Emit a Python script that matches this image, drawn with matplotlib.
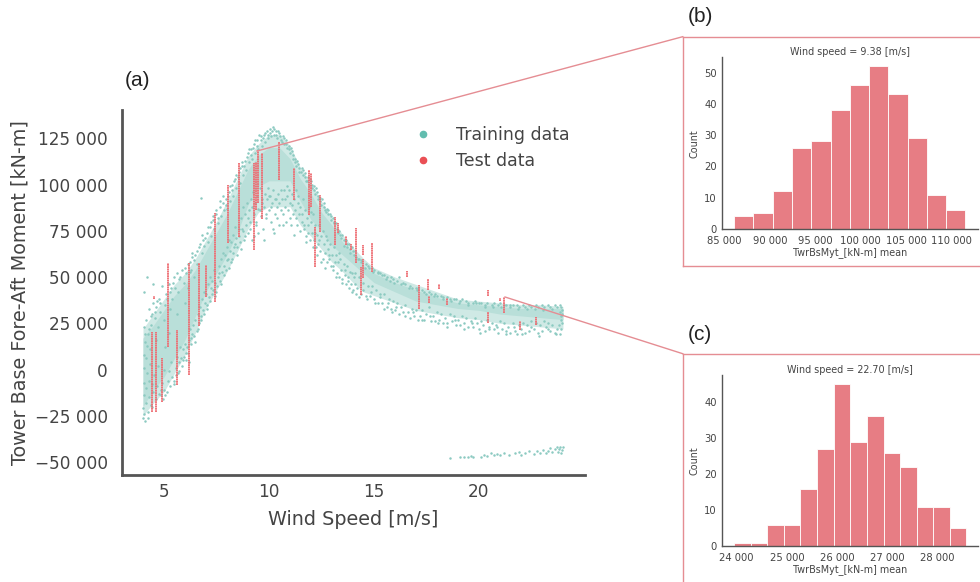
import matplotlib
matplotlib.use('Agg')
import matplotlib.pyplot as plt
from matplotlib.lines import Line2D

# wind speed [m/s], moment [thousand kN-m]
train_points = [
    (4.0,-26),(4.02,-21),(4.05,-14),(4.03,-7),(4.06,1),(4.04,8),(4.08,15),(4.05,23),(4.05,42),(4.17,50),
    (4.1,-28),(4.14,-18),(4.12,-10),(4.18,-2),(4.15,6),(4.2,13),(4.22,19),(4.12,27),(4.48,46),(4.3,33),
    (4.25,-23),(4.3,-15),(4.28,-6),(4.34,3),(4.32,11),(4.38,24),(4.42,30),(4.5,36),(4.55,28),(4.6,34),
    (4.45,-20),(4.5,-12),(4.52,-3),(4.6,-16),(4.65,-9),(4.7,2),(4.62,16),(4.72,23),(4.8,31),(4.78,38),
    (4.85,-14),(4.9,-7),(4.95,-16),(5.0,-11),(4.98,0),(5.05,12),(5.0,27),(5.05,35),(5.1,41),(4.9,45),
    (5.15,-12),(5.2,-6),(5.25,-1),(5.3,-9),(5.35,4),(5.4,-4),(5.25,20),(5.3,33),(5.35,44),(5.4,38),
    (5.5,-6),(5.55,1),(5.6,7),(5.65,-2),(5.7,4),(5.75,12),(5.6,30),(5.65,42),(5.7,49),(5.5,50),
    (5.8,6),(5.85,2),(5.9,11),(5.95,7),(6.0,14),(6.05,5),(6.0,36),(5.95,47),(6.0,55),(6.05,52),
    (6.1,12),(6.15,9),(6.2,16),(6.25,22),(6.3,14),(6.35,19),(6.15,44),(6.25,58),(6.3,54),(6.35,61),
    (6.4,24),(6.45,18),(6.5,27),(6.55,21),(6.6,30),(6.65,25),(6.45,50),(6.5,62),(6.55,57),(6.65,66),
    (6.7,34),(6.75,29),(6.8,38),(6.85,32),(6.9,42),(6.95,36),(6.75,93),(6.8,63),(6.85,70),(6.9,67),
    (7.0,41),(7.05,35),(7.1,46),(7.15,39),(7.2,50),(7.25,44),(7.05,74),(7.1,69),(7.2,77),(7.25,72),
    (7.3,48),(7.35,43),(7.4,54),(7.45,47),(7.5,42),(7.55,50),(7.35,81),(7.4,76),(7.5,84),(7.55,79),
    (7.6,56),(7.65,48),(7.7,60),(7.75,53),(7.8,63),(7.85,56),(7.65,88),(7.7,83),(7.8,90),(7.85,86),
    (7.9,62),(7.95,54),(8.0,66),(8.05,60),(8.1,70),(8.15,64),(7.95,92),(8.0,87),(8.1,96),(8.15,91),
    (8.2,69),(8.25,60),(8.3,73),(8.35,66),(8.4,77),(8.45,71),(8.25,100),(8.3,94),(8.4,103),(8.45,98),
    (8.5,62),(8.55,76),(8.6,69),(8.65,82),(8.7,76),(8.75,88),(8.55,107),(8.6,101),(8.7,110),(8.75,105),
    (8.8,70),(8.85,84),(8.9,78),(8.95,90),(9.0,74),(9.05,86),(8.85,113),(8.9,108),(9.0,117),(9.05,112),
    (9.1,80),(9.15,92),(9.2,70),(9.25,96),(9.3,84),(9.35,90),(9.15,119),(9.2,114),(9.3,122),(9.35,117),
    (9.4,78),(9.45,94),(9.5,87),(9.55,98),(9.6,83),(9.65,92),(9.45,124),(9.5,119),(9.6,126),(9.65,121),
    (9.7,76),(9.75,88),(9.8,95),(9.85,82),(9.9,92),(9.95,98),(9.75,127),(9.8,123),(9.9,129),(9.95,125),
    (10.0,86),(10.05,94),(10.1,80),(10.15,90),(10.2,97),(10.25,74),(10.05,130),(10.1,126),(10.2,131),(10.25,127),
    (10.3,84),(10.35,92),(10.4,88),(10.45,95),(10.5,78),(10.55,86),(10.35,129),(10.4,125),(10.5,128),(10.55,124),
    (10.6,92),(10.65,84),(10.7,97),(10.75,88),(10.8,80),(10.85,94),(10.65,126),(10.7,122),(10.8,124),(10.85,120),
    (10.9,86),(10.95,97),(11.0,90),(11.05,78),(11.1,95),(11.15,84),(10.95,121),(11.0,117),(11.1,118),(11.15,114),
    (11.2,92),(11.25,86),(11.3,97),(11.35,78),(11.4,90),(11.45,84),(11.25,114),(11.3,110),(11.4,111),(11.45,107),
    (11.5,88),(11.55,80),(11.6,92),(11.65,76),(11.7,86),(11.75,72),(11.55,109),(11.6,105),(11.7,106),(11.75,102),
    (11.8,82),(11.85,74),(11.9,88),(11.95,70),(12.0,80),(12.05,74),(11.85,104),(11.9,100),(12.0,102),(12.05,98),
    (12.1,84),(12.15,70),(12.2,78),(12.25,66),(12.3,73),(12.35,68),(12.15,99),(12.2,95),(12.3,96),(12.35,92),
    (12.4,78),(12.45,64),(12.5,72),(12.55,60),(12.6,68),(12.65,63),(12.45,93),(12.5,89),(12.6,90),(12.65,86),
    (12.7,72),(12.75,58),(12.8,65),(12.85,60),(12.9,68),(12.95,56),(12.75,87),(12.8,84),(12.9,84),(12.95,81),
    (13.0,62),(13.05,54),(13.1,66),(13.15,58),(13.2,62),(13.25,52),(13.05,82),(13.1,79),(13.2,79),(13.25,76),
    (13.3,58),(13.35,50),(13.4,60),(13.45,54),(13.5,49),(13.55,57),(13.35,75),(13.4,73),(13.5,73),(13.55,70),
    (13.6,51),(13.65,46),(13.7,56),(13.75,50),(13.8,44),(13.85,53),(13.65,70),(13.7,68),(13.8,68),(13.85,65),
    (13.9,46),(13.95,52),(14.0,43),(14.05,50),(14.1,46),(14.15,41),(13.95,66),(14.0,64),(14.1,64),(14.15,61),
    (14.2,44),(14.3,50),(14.4,41),(14.5,47),(14.6,40),(14.7,45),(14.3,60),(14.4,59),(14.6,57),(14.7,56),
    (14.8,40),(14.9,45),(15.0,38),(15.1,43),(15.2,36),(15.3,41),(14.9,55),(15.0,54),(15.2,53),(15.3,52),
    (15.4,36),(15.5,41),(15.6,34),(15.7,38),(15.8,33),(15.9,37),(15.5,51),(15.6,50),(15.8,50),(15.9,49),
    (16.0,32),(16.1,36),(16.2,30),(16.3,34),(16.4,31),(16.5,35),(16.1,48),(16.2,50),(16.4,47),(16.5,46),
    (16.6,31),(16.7,28),(16.8,33),(16.9,29),(17.0,32),(17.1,27),(16.7,45),(16.8,44),(17.0,44),(17.1,44),
    (17.2,29),(17.3,32),(17.4,27),(17.5,30),(17.6,34),(17.7,26),(17.3,43),(17.4,42),(17.6,42),(17.7,41),
    (17.8,29),(17.9,26),(18.0,31),(18.1,27),(18.2,30),(18.3,25),(17.9,41),(18.0,40),(18.2,40),(18.3,39),
    (18.4,28),(18.5,25),(18.6,30),(18.7,26),(18.8,29),(18.9,24),(18.5,39),(18.6,38),(18.8,38),(18.9,38),
    (19.0,27),(19.1,24),(19.2,29),(19.3,25),(19.4,28),(19.5,23),(19.1,37),(19.2,38),(19.4,37),(19.5,36),
    (19.6,26),(19.7,23),(19.8,28),(19.9,25),(20.0,22),(20.1,26),(19.7,36),(19.8,37),(20.0,36),(20.1,36),
    (20.2,24),(20.3,21),(20.4,27),(20.5,23),(20.6,25),(20.7,22),(20.3,35),(20.4,36),(20.6,35),(20.7,36),
    (20.8,24),(20.9,20),(21.0,26),(21.1,22),(21.2,25),(21.3,21),(20.9,35),(21.0,36),(21.2,35),(21.3,35),
    (21.4,23),(21.5,20),(21.6,25),(21.7,21),(21.8,19),(21.9,24),(21.5,35),(21.6,35),(21.8,35),(21.9,34),
    (22.0,22),(22.1,25),(22.2,20),(22.3,24),(22.4,21),(22.5,26),(22.1,35),(22.2,34),(22.4,35),(22.5,34),
    (22.6,22),(22.7,25),(22.8,20),(22.9,24),(23.0,21),(23.1,26),(22.7,35),(22.8,34),(23.0,35),(23.1,34),
    (23.2,23),(23.3,25),(23.4,21),(23.5,24),(23.6,20),(23.7,22),(23.3,35),(23.4,34),(23.6,35),(23.7,34),
    (23.8,24),(23.85,19),(23.9,22),(23.9,27),(23.95,25),(23.95,30),(23.85,35),(23.9,34),(23.95,32),(23.9,29),
    (18.6,-48),(19.1,-47.5),(19.3,-47),(19.5,-47.5),(19.6,-46.5),(19.7,-47),(20.1,-47),(20.25,-46),(20.4,-46.5),
    (20.55,-45),(20.7,-46),(20.85,-45.5),(21.0,-46),(21.2,-45),(21.45,-46),(21.7,-45),(21.9,-44.5),(22.0,-46),
    (22.2,-45),(22.4,-44),(22.6,-45.5),(22.75,-44),(22.9,-45),(23.05,-43.5),(23.2,-45),(23.3,-44),(23.4,-42.5),
    (23.5,-44.5),(23.6,-43),(23.7,-42),(23.75,-44.5),(23.8,-43),(23.85,-42),(23.9,-45),(23.95,-43.5),(23.98,-42),
]

# second pass over the edges of the cloud
train_edge_points = [
    (4.07,-24),(4.23,-26),(4.37,-19),(4.41,-8),(4.09,19),(4.27,22),(4.36,29),(4.58,31),(4.67,37),(4.83,36),
    (4.74,-13),(4.88,-11),(5.07,-14),(5.13,38),(5.22,46),(5.28,42),(5.43,47),(5.47,-8),(5.58,-3),(5.72,-1),
    (5.52,44),(5.63,52),(5.78,50),(5.87,54),(5.92,5),(6.03,9),(6.12,57),(6.18,4),(6.22,53),(6.27,17),
    (6.33,63),(6.41,59),(6.47,15),(6.58,64),(6.63,22),(6.72,68),(6.78,27),(6.83,73),(6.92,30),(6.97,71),
    (7.03,33),(7.08,77),(7.17,37),(7.22,80),(7.28,41),(7.33,83),(7.42,40),(7.47,86),(7.53,45),(7.58,82),
    (7.63,52),(7.68,91),(7.73,46),(7.83,94),(7.88,51),(7.93,89),(7.98,59),(8.03,94),(8.08,55),(8.13,99),
    (8.18,58),(8.23,97),(8.28,63),(8.33,102),(8.38,68),(8.43,105),(8.48,66),(8.53,104),(8.58,72),(8.63,109),
    (8.68,65),(8.73,112),(8.78,75),(8.83,110),(8.88,72),(8.93,115),(8.98,82),(9.03,119),(9.08,76),(9.13,116),
    (9.18,88),(9.23,120),(9.28,72),(9.33,124),(9.38,80),(9.43,121),(9.48,74),(9.53,127),(9.58,86),(9.63,124),
    (9.68,90),(9.73,125),(9.78,70),(9.83,128),(9.88,84),(9.93,127),(9.98,94),(10.03,128),(10.08,88),(10.13,129),
    (10.18,76),(10.23,130),(10.28,92),(10.33,127),(10.38,82),(10.43,129),(10.48,90),(10.53,126),(10.58,97),(10.63,123),
    (10.68,78),(10.73,125),(10.78,92),(10.83,122),(10.88,99),(10.93,119),(10.98,82),(11.03,120),(11.08,89),(11.13,116),
    (11.18,73),(11.23,112),(11.28,82),(11.33,113),(11.38,94),(11.43,109),(11.48,75),(11.53,107),(11.58,84),(11.63,108),
    (11.68,78),(11.73,104),(11.78,69),(11.83,102),(11.88,78),(11.93,103),(11.98,85),(12.03,100),(12.08,66),(12.13,97),
    (12.18,74),(12.23,98),(12.28,62),(12.33,94),(12.38,70),(12.43,91),(12.48,58),(12.53,92),(12.58,75),(12.63,88),
    (12.68,55),(12.73,85),(12.78,70),(12.83,86),(12.88,62),(12.93,83),(13.03,56),(13.12,80),(13.18,50),(13.27,74),
    (13.33,63),(13.42,71),(13.48,47),(13.58,67),(13.63,54),(13.72,66),(13.78,48),(13.87,63),(13.93,42),(14.03,62),
    (14.12,52),(14.22,60),(14.27,39),(14.37,58),(14.47,43),(14.57,55),(14.67,38),(14.77,55),(14.87,42),(14.97,53),
    (15.07,36),(15.17,52),(15.27,39),(15.37,51),(15.47,33),(15.57,49),(15.67,36),(15.77,48),(15.87,31),(15.97,47),
    (16.07,34),(16.27,46),(16.47,29),(16.67,44),(16.87,31),(17.07,43),(17.27,27),(17.47,41),(17.67,29),(17.87,40),
    (18.07,25),(18.27,38),(18.47,23),(18.67,37),(18.87,27),(19.07,36),(19.27,22),(19.47,35),(19.67,25),(19.87,36),
    (20.07,20),(20.27,34),(20.47,22),(20.67,34),(20.87,23),(21.07,34),(21.27,19),(21.47,34),(21.67,23),(21.87,33),
    (22.07,19),(22.27,33),(22.47,23),(22.67,33),(22.87,18),(23.07,32),(23.27,22),(23.47,33),(23.67,19),(23.87,31),
]

# outline of the whole training cloud and of its dense part
band_wind = [4.0, 4.5, 5, 5.5, 6, 6.5, 7, 7.5, 8, 8.5, 9, 9.5, 10, 10.5, 11, 11.5, 12, 12.5, 13, 13.5, 14, 14.5, 15, 16, 17, 18, 19, 20, 21, 22, 23, 24]
cloud_low = [-25, -18, -12, -2, 8, 20, 33, 43, 53, 64, 76, 85, 88, 88, 88, 78, 72, 65, 58, 53, 47, 42, 40, 36, 32, 30, 28, 27, 25, 24, 23, 22]
cloud_high = [22, 30, 38, 46, 52, 60, 70, 80, 91, 103, 115, 122, 127, 127, 121, 109, 101, 91, 82, 73, 66, 60, 55, 50, 46, 42, 38, 37, 36, 35, 35, 34]
band_low = [-20, -11, -4, 6, 16, 29, 42, 52, 62, 74, 89, 99, 102, 102, 102, 91, 81, 75, 67, 62, 57, 52, 47, 42, 37, 35, 33, 32, 30, 29, 28, 27]
band_high = [17, 24, 32, 40, 46, 54, 64, 74, 84, 96, 108, 116, 120, 120, 114, 103, 95, 85, 78, 69, 63, 56, 52, 47, 43, 39, 36, 35, 34, 33, 33, 33]

# test runs: one wind speed each, spread of the moment
test_wind = [4.44, 4.52, 4.6, 4.92, 5.2, 5.6, 6.19, 6.67, 6.98, 7.45, 8.06, 8.57, 9.3, 9.38, 9.49, 9.65, 10.48, 11.17,
             11.92, 11.98, 12.19, 12.43, 13.13, 13.3, 13.67, 13.89, 14.13, 14.37, 14.46, 14.49, 14.92, 16.56, 17.14,
             17.56, 17.64, 18.1, 18.5, 20.43, 20.43, 21.0, 21.19, 21.94, 22.7]
test_high = [20.5, 40, 20.5, 6.5, 57.8, 21.6, 57.8, 57.8, 56.7, 84.8, 100, 111.8, 111.8, 112, 118.8, 117, 123, 109,
             108, 106, 77, 94.5, 82.6, 79.4, 72.4, 68, 76.7, 55.6, 67.5, 60, 68.6, 53.5, 45.9,
             49, 40, 46.4, 38.9, 43.2, 31.3, 38.9, 39.4, 26, 28.6]
test_low = [-23, 38, -22.7, -17.8, 12.4, -8.1, -2.7, 23.8, 39.4, 36.7, 68.6, 71.8, 64.8, 86, 90, 81.5, 102.6, 91.8,
            83.7, 88, 55.6, 74.5, 67.5, 74, 67.5, 64.8, 57.8, 40.5, 62, 49.7, 53, 50.2, 33,
            43.2, 36.2, 43.7, 35, 40, 25.4, 37.3, 30.8, 21.6, 24.3]

main_xticks = [5, 10, 15, 20]
main_yticks = [-50, -25, 0, 25, 50, 75, 100, 125]
main_ylabels = ['\u221250 000', '\u221225 000', '0', '25 000', '50 000', '75 000', '100 000', '125 000']

b_edges = [86060, 88185, 90310, 92430, 94550, 96670, 98790, 100910, 103030, 105150, 107270, 109390, 111500]
b_counts = [4, 5, 12, 26, 28, 38, 46, 52, 43, 29, 11, 6]
b_xticks = [85000, 90000, 95000, 100000, 105000, 110000]
b_xlabels = ['85 000', '90 000', '95 000', '100 000', '105 000', '110 000']
b_yticks = [0, 10, 20, 30, 40, 50]

c_edges = [23947, 24280, 24612, 24944, 25270, 25602, 25934, 26262, 26594, 26927, 27259, 27585, 27917, 28243, 28568]
c_counts = [1, 1, 6, 6, 16, 27, 45, 29, 36, 26, 22, 11, 11, 5]
c_xticks = [24000, 25000, 26000, 27000, 28000]
c_xlabels = ['24 000', '25 000', '26 000', '27 000', '28 000']
c_yticks = [0, 10, 20, 30, 40]

W, H = 980, 582
TEAL = '#8ccac1'
RED = '#ee6a70'
BAR = '#e77d84'
FRAME = '#e58d93'
DARK = '#444444'


def px_axes(fig, left, top, right, bottom):
    return fig.add_axes([left / W, 1 - bottom / H, (right - left) / W, (bottom - top) / H])


def px_line(fig, x0, y0, x1, y1):
    fig.add_artist(Line2D([x0 / W, x1 / W], [1 - y0 / H, 1 - y1 / H], color=FRAME, lw=1.0,
                          transform=fig.transFigure, zorder=5))


def draw_hist(ax, edges, counts, xticks, xlabels, yticks, xlim, ylim, title):
    lefts = edges[:-1]
    widths = [edges[i + 1] - edges[i] for i in range(len(counts))]
    ax.bar(lefts, counts, width=widths, align='edge', color=BAR, edgecolor='white', linewidth=0.6)
    ax.set_xlim(xlim)
    ax.set_ylim(ylim)
    ax.set_xticks(xticks)
    ax.set_xticklabels(xlabels)
    ax.set_yticks(yticks)
    ax.tick_params(length=0, labelsize=7.2, colors=DARK)
    ax.tick_params(axis='x', pad=5)
    ax.tick_params(axis='y', pad=4)
    ax.set_xlabel('TwrBsMyt_[kN-m] mean', fontsize=6.9, color=DARK, labelpad=0.5)
    ax.set_ylabel('Count', fontsize=6.9, color=DARK, labelpad=3)
    ax.set_title(title, fontsize=6.9, color=DARK, pad=1)
    for s in ['top', 'right']:
        ax.spines[s].set_visible(False)
    for s in ['left', 'bottom']:
        ax.spines[s].set_color('#555555')
        ax.spines[s].set_linewidth(1.0)


fig = plt.figure(figsize=(9.8, 5.82), dpi=100)

ax = px_axes(fig, 122, 110, 585, 475)
ax.fill_between(band_wind, cloud_low, cloud_high, color='#cfe9e5', lw=0, zorder=1)
ax.fill_between(band_wind, band_low, band_high, color='#b9dfd9', lw=0, zorder=1)
all_points = train_points + train_edge_points
train_wind = [p[0] for p in all_points]
train_moment = [p[1] for p in all_points]
ax.scatter(train_wind, train_moment, s=3.2, color=TEAL, lw=0, zorder=2)
ax.vlines(test_wind, test_low, test_high, color=RED, lw=1.3, linestyles=(0, (1.0, 0.25)), zorder=3)
ax.set_xlim(3.0, 25.05)
ax.set_ylim(-57, 140.3)
ax.set_xticks(main_xticks)
ax.set_yticks(main_yticks)
ax.set_yticklabels(main_ylabels)
ax.tick_params(length=0, labelsize=12.2, colors=DARK)
ax.tick_params(axis='y', pad=10)
ax.tick_params(axis='x', pad=6)
ax.set_xlabel('Wind Speed [m/s]', fontsize=13.8, color=DARK, labelpad=6)
ax.set_ylabel('Tower Base Fore-Aft Moment [kN-m]', fontsize=13.8, color=DARK, labelpad=4)
for s in ['top', 'right']:
    ax.spines[s].set_visible(False)
for s in ['left', 'bottom']:
    ax.spines[s].set_color('#555555')
    ax.spines[s].set_linewidth(2.0)

handles = [
    Line2D([], [], ls='', marker='o', ms=4.5, color='#62bdaf', label='Training data'),
    Line2D([], [], ls='', marker='o', ms=4.5, color='#ea4f55', label='Test data'),
]
leg = ax.legend(handles=handles, loc='upper left', bbox_to_anchor=(0.613, 0.955), frameon=False,
                fontsize=12.5, handletextpad=0.9, labelspacing=0.45, borderpad=0, borderaxespad=0)
for t in leg.get_texts():
    t.set_color(DARK)

axb = px_axes(fig, 722.3, 57.5, 977.7, 229)
draw_hist(axb, b_edges, b_counts, b_xticks, b_xlabels, b_yticks, (84780, 112845), (0, 54.8),
          'Wind speed = 9.38 [m/s]')
axc = px_axes(fig, 722.3, 375, 977.7, 546.3)
draw_hist(axc, c_edges, c_counts, c_xticks, c_xlabels, c_yticks, (23714, 28804), (0, 47.5),
          'Wind speed = 22.70 [m/s]')

# frames around the two histograms and the lines back to the main plot
px_line(fig, 682.7, 36.7, 980, 36.7)
px_line(fig, 682.7, 36.7, 682.7, 266.3)
px_line(fig, 682.7, 266.3, 980, 266.3)
px_line(fig, 682.7, 353.7, 980, 353.7)
px_line(fig, 682.7, 353.7, 682.7, 582)
px_line(fig, 257, 151, 682.7, 36.7)
px_line(fig, 505, 297, 682.7, 353.7)

for label, x, y in [('(a)', 125, 81), ('(b)', 688, 17), ('(c)', 688, 334)]:
    fig.text(x / W, 1 - y / H, label, fontsize=15, family='Liberation Sans', color='#222222', va='center')

fig.savefig('out.png', dpi=100, facecolor='white')
